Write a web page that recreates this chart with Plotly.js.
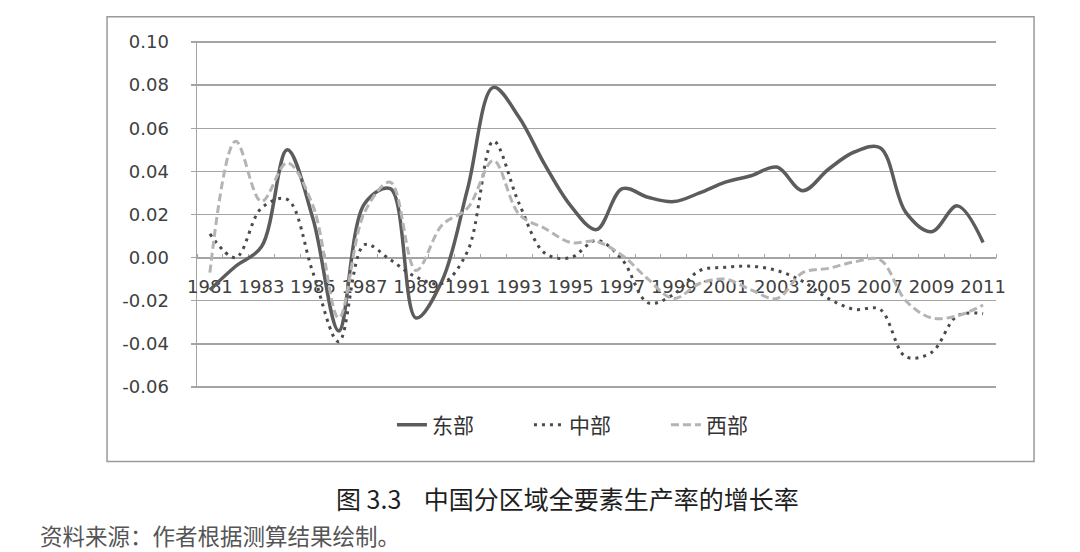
<!DOCTYPE html>
<html>
<head>
<meta charset="utf-8">
<script src="https://cdn.plot.ly/plotly-3.0.1.min.js"></script>
<style>
html, body { margin: 0; padding: 0; background: #ffffff; }
#chart { width: 1080px; height: 552px; }
</style>
</head>
<body>
<div id="chart"></div>
<script>
// ---- data ----
const years = [1981, 1982, 1983, 1984, 1985, 1986, 1987, 1988, 1989, 1990,
               1991, 1992, 1993, 1994, 1995, 1996, 1997, 1998, 1999, 2000,
               2001, 2002, 2003, 2004, 2005, 2006, 2007, 2008, 2009, 2010, 2011];

const east = [-0.015, -0.004, 0.005, 0.050, 0.018, -0.034, 0.025, 0.032, -0.028, -0.011,
              0.032, 0.079, 0.065, 0.043, 0.024, 0.013, 0.032, 0.028, 0.026, 0.030,
              0.035, 0.038, 0.042, 0.031, 0.041, 0.049, 0.051, 0.021, 0.012, 0.024, 0.007];

const central = [0.011, 0.000, 0.023, 0.027, -0.007, -0.039, 0.006, -0.001, -0.009, -0.012,
                 0.003, 0.054, 0.025, 0.002, 0.000, 0.008, -0.001, -0.021, -0.017, -0.006,
                 -0.0045, -0.004, -0.006, -0.011, -0.019, -0.024, -0.024, -0.046, -0.044, -0.027, -0.026];

const west = [-0.007, 0.054, 0.026, 0.044, 0.024, -0.028, 0.021, 0.035, -0.006, 0.015,
              0.023, 0.045, 0.020, 0.0135, 0.007, 0.0075, 0.001, -0.010, -0.019, -0.012,
              -0.010, -0.015, -0.019, -0.007, -0.005, -0.002, -0.001, -0.020, -0.028, -0.027, -0.022];

const seriesNames = ['东部', '中部', '西部'];

const xTickVals = [1981, 1983, 1985, 1987, 1989, 1991, 1993, 1995, 1997, 1999, 2001, 2003, 2005, 2007, 2009, 2011];
const xTickLabels = ['1981', '1983', '1985', '1987', '1989', '1991', '1993', '1995', '1997', '1999', '2001', '2003', '2005', '2007', '2009', '2011'];

const yTickVals = [0.10, 0.08, 0.06, 0.04, 0.02, 0.00, -0.02, -0.04, -0.06];
const yTickLabels = ['0.10', '0.08', '0.06', '0.04', '0.02', '0.00', '-0.02', '-0.04', '-0.06'];

const captionText = '图 3.3\u00a0\u00a0\u00a0\u00a0中国分区域全要素生产率的增长率';
const sourceText = '资料来源：作者根据测算结果绘制。';

// ---- chart ----
const yMin = -0.0605, yMax = 0.1005;
const boundaries = years.map(y => y - 0.5).concat([years[years.length - 1] + 0.5]);
const tickFont = { family: 'DejaVu Sans', size: 18, color: '#404040' };
const gridColor = '#a4a4a4';

const traces = [
  { x: years, y: east, name: seriesNames[0], type: 'scatter', mode: 'lines',
    line: { color: '#5c5c5c', width: 3.5, shape: 'spline', smoothing: 1 } },
  { x: years, y: central, name: seriesNames[1], type: 'scatter', mode: 'lines',
    line: { color: '#4a4a4a', width: 3, dash: '3px,5px', shape: 'spline', smoothing: 1 } },
  { x: years, y: west, name: seriesNames[2], type: 'scatter', mode: 'lines',
    line: { color: '#b4b4b4', width: 3, dash: '8px,4px', shape: 'spline', smoothing: 1 } }
];

const layout = {
  width: 1080, height: 552,
  paper_bgcolor: '#ffffff', plot_bgcolor: '#ffffff',
  margin: { l: 197, r: 84, t: 41, b: 164, pad: 0 },
  showlegend: true,
  xaxis: {
    range: [years[0] - 0.5, years[years.length - 1] + 0.5],
    anchor: 'free', position: (0 - yMin) / (yMax - yMin),
    showgrid: false, zeroline: false,
    showline: true, linecolor: gridColor, linewidth: 1.5,
    tickmode: 'array', tickvals: xTickVals, ticktext: xTickLabels,
    ticks: '', ticklabelstandoff: 12,
    minor: { tickmode: 'array', tickvals: boundaries, ticks: 'inside', ticklen: 4,
             tickcolor: gridColor, tickwidth: 1, showgrid: false },
    tickfont: tickFont,
    layer: 'below traces', fixedrange: true
  },
  yaxis: {
    range: [yMin, yMax],
    tickmode: 'array', tickvals: yTickVals, ticktext: yTickLabels,
    showgrid: true, gridcolor: gridColor, gridwidth: 1.5,
    zeroline: false,
    showline: true, linecolor: gridColor, linewidth: 1.5,
    ticks: 'outside', ticklen: 5, tickcolor: gridColor, tickwidth: 1.5,
    ticklabelstandoff: 18,
    tickfont: tickFont,
    layer: 'below traces', fixedrange: true
  },
  legend: {
    orientation: 'h', x: 0.244, xanchor: 'left', y: -0.107, yanchor: 'middle',
    font: { family: 'Noto Sans CJK SC', size: 21, color: '#333333' },
    entrywidth: 92, entrywidthmode: 'pixels',
    bgcolor: 'rgba(0,0,0,0)', traceorder: 'normal'
  },
  shapes: [
    { type: 'rect', xref: 'paper', yref: 'paper', x0: -0.1126, x1: 1.0476, y0: -0.2116, y1: 1.0696,
      line: { color: '#9a9a9a', width: 1.5 }, fillcolor: 'rgba(0,0,0,0)', layer: 'below' }
  ],
  annotations: [
    { xref: 'paper', yref: 'paper', x: 0.4636, y: -0.316, xanchor: 'center', yanchor: 'middle',
      text: captionText, showarrow: false,
      font: { family: 'Noto Sans CJK SC', size: 25, color: '#1e1e1e' } },
    { xref: 'paper', yref: 'paper', x: -0.199, y: -0.423, xanchor: 'left', yanchor: 'middle',
      text: sourceText, showarrow: false,
      font: { family: 'Noto Sans CJK SC', size: 22.5, color: '#555555' } }
  ]
};

Plotly.newPlot('chart', traces, layout, { displayModeBar: false, staticPlot: true });
</script>
</body>
</html>
